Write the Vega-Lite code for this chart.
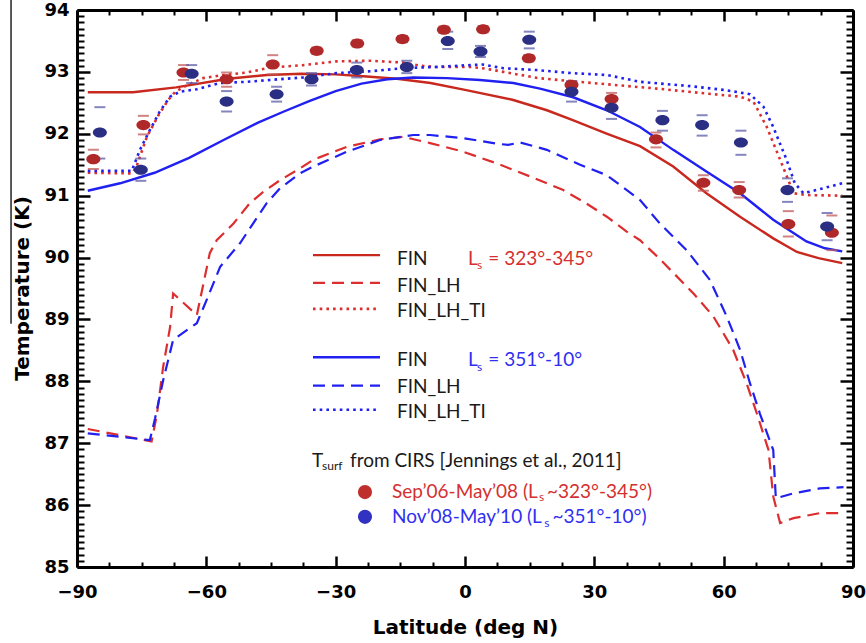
{
  "$schema": "https://vega.github.io/schema/vega-lite/v6.json",
  "width": 776,
  "height": 557,
  "autosize": {"type": "none"},
  "padding": {"left": 77, "top": 10, "right": 13, "bottom": 76},
  "background": "white",
  "config": {
    "view": {"stroke": null},
    "axis": {
      "grid": false,
      "zindex": 1,
      "domainColor": "black",
      "tickColor": "black",
      "labelColor": "black",
      "titleColor": "black",
      "labelFont": "DejaVu Sans",
      "labelFontWeight": "bold",
      "titleFont": "DejaVu Sans",
      "titleFontWeight": "bold",
      "labelFlush": false,
      "labelOverlap": false
    }
  },
  "datasets": {
    "curves": [
      {"m": "FIN", "s": "323-345", "k": "p", "lat": -87.5, "T": 92.67},
      {"m": "FIN", "s": "323-345", "k": "p", "lat": -77, "T": 92.67},
      {"m": "FIN", "s": "323-345", "k": "p", "lat": -67, "T": 92.75},
      {"m": "FIN", "s": "323-345", "k": "p", "lat": -55, "T": 92.89},
      {"m": "FIN", "s": "323-345", "k": "p", "lat": -46, "T": 92.95},
      {"m": "FIN", "s": "323-345", "k": "p", "lat": -38, "T": 92.97},
      {"m": "FIN", "s": "323-345", "k": "p", "lat": -30, "T": 92.96},
      {"m": "FIN", "s": "323-345", "k": "p", "lat": -23.6, "T": 92.93},
      {"m": "FIN", "s": "323-345", "k": "p", "lat": -15.8, "T": 92.89},
      {"m": "FIN", "s": "323-345", "k": "p", "lat": -8, "T": 92.82},
      {"m": "FIN", "s": "323-345", "k": "p", "lat": 0, "T": 92.71},
      {"m": "FIN", "s": "323-345", "k": "p", "lat": 11, "T": 92.55},
      {"m": "FIN", "s": "323-345", "k": "p", "lat": 19, "T": 92.38},
      {"m": "FIN", "s": "323-345", "k": "p", "lat": 25, "T": 92.22},
      {"m": "FIN", "s": "323-345", "k": "p", "lat": 33, "T": 92.0},
      {"m": "FIN", "s": "323-345", "k": "p", "lat": 40.6, "T": 91.8},
      {"m": "FIN", "s": "323-345", "k": "p", "lat": 48.3, "T": 91.47},
      {"m": "FIN", "s": "323-345", "k": "p", "lat": 56, "T": 91.04},
      {"m": "FIN", "s": "323-345", "k": "p", "lat": 63.8, "T": 90.66},
      {"m": "FIN", "s": "323-345", "k": "p", "lat": 71.5, "T": 90.31},
      {"m": "FIN", "s": "323-345", "k": "p", "lat": 77, "T": 90.09},
      {"m": "FIN", "s": "323-345", "k": "p", "lat": 82, "T": 89.99},
      {"m": "FIN", "s": "323-345", "k": "p", "lat": 87.5, "T": 89.91},

      {"m": "FIN", "s": "351-10", "k": "p", "lat": -87.5, "T": 91.08},
      {"m": "FIN", "s": "351-10", "k": "p", "lat": -80, "T": 91.2},
      {"m": "FIN", "s": "351-10", "k": "p", "lat": -72, "T": 91.37},
      {"m": "FIN", "s": "351-10", "k": "p", "lat": -64, "T": 91.61},
      {"m": "FIN", "s": "351-10", "k": "p", "lat": -56, "T": 91.9},
      {"m": "FIN", "s": "351-10", "k": "p", "lat": -48, "T": 92.18},
      {"m": "FIN", "s": "351-10", "k": "p", "lat": -42, "T": 92.36},
      {"m": "FIN", "s": "351-10", "k": "p", "lat": -36, "T": 92.53},
      {"m": "FIN", "s": "351-10", "k": "p", "lat": -30, "T": 92.69},
      {"m": "FIN", "s": "351-10", "k": "p", "lat": -24, "T": 92.81},
      {"m": "FIN", "s": "351-10", "k": "p", "lat": -18, "T": 92.88},
      {"m": "FIN", "s": "351-10", "k": "p", "lat": -12, "T": 92.91},
      {"m": "FIN", "s": "351-10", "k": "p", "lat": -4.2, "T": 92.9},
      {"m": "FIN", "s": "351-10", "k": "p", "lat": 3.5, "T": 92.87},
      {"m": "FIN", "s": "351-10", "k": "p", "lat": 11.2, "T": 92.82},
      {"m": "FIN", "s": "351-10", "k": "p", "lat": 17.4, "T": 92.73},
      {"m": "FIN", "s": "351-10", "k": "p", "lat": 25.1, "T": 92.59},
      {"m": "FIN", "s": "351-10", "k": "p", "lat": 32.9, "T": 92.38},
      {"m": "FIN", "s": "351-10", "k": "p", "lat": 40.6, "T": 92.11},
      {"m": "FIN", "s": "351-10", "k": "p", "lat": 48.3, "T": 91.74},
      {"m": "FIN", "s": "351-10", "k": "p", "lat": 56, "T": 91.39},
      {"m": "FIN", "s": "351-10", "k": "p", "lat": 63.8, "T": 91.04},
      {"m": "FIN", "s": "351-10", "k": "p", "lat": 71.5, "T": 90.61},
      {"m": "FIN", "s": "351-10", "k": "p", "lat": 79.2, "T": 90.26},
      {"m": "FIN", "s": "351-10", "k": "p", "lat": 83.5, "T": 90.15},
      {"m": "FIN", "s": "351-10", "k": "p", "lat": 87.5, "T": 90.1},

      {"m": "FIN_LH", "s": "323-345", "k": "p", "lat": -87.5, "T": 87.23},
      {"m": "FIN_LH", "s": "323-345", "k": "p", "lat": -72.7, "T": 87.03},
      {"m": "FIN_LH", "s": "323-345", "k": "p", "lat": -71.5, "T": 87.45},
      {"m": "FIN_LH", "s": "323-345", "k": "p", "lat": -70, "T": 88.24},
      {"m": "FIN_LH", "s": "323-345", "k": "p", "lat": -68.4, "T": 88.88},
      {"m": "FIN_LH", "s": "323-345", "k": "p", "lat": -67.7, "T": 89.42},
      {"m": "FIN_LH", "s": "323-345", "k": "p", "lat": -62.2, "T": 89.07},
      {"m": "FIN_LH", "s": "323-345", "k": "p", "lat": -59.2, "T": 90.07},
      {"m": "FIN_LH", "s": "323-345", "k": "p", "lat": -57.6, "T": 90.28},
      {"m": "FIN_LH", "s": "323-345", "k": "p", "lat": -53.7, "T": 90.55},
      {"m": "FIN_LH", "s": "323-345", "k": "p", "lat": -49.9, "T": 90.88},
      {"m": "FIN_LH", "s": "323-345", "k": "p", "lat": -46.8, "T": 91.06},
      {"m": "FIN_LH", "s": "323-345", "k": "p", "lat": -42.9, "T": 91.25},
      {"m": "FIN_LH", "s": "323-345", "k": "p", "lat": -38.3, "T": 91.44},
      {"m": "FIN_LH", "s": "323-345", "k": "p", "lat": -35.2, "T": 91.58},
      {"m": "FIN_LH", "s": "323-345", "k": "p", "lat": -27.4, "T": 91.79},
      {"m": "FIN_LH", "s": "323-345", "k": "p", "lat": -19.7, "T": 91.91},
      {"m": "FIN_LH", "s": "323-345", "k": "p", "lat": -14.3, "T": 91.95},
      {"m": "FIN_LH", "s": "323-345", "k": "p", "lat": -8.1, "T": 91.85},
      {"m": "FIN_LH", "s": "323-345", "k": "p", "lat": -0.4, "T": 91.71},
      {"m": "FIN_LH", "s": "323-345", "k": "p", "lat": 7.4, "T": 91.52},
      {"m": "FIN_LH", "s": "323-345", "k": "p", "lat": 15.1, "T": 91.31},
      {"m": "FIN_LH", "s": "323-345", "k": "p", "lat": 22.8, "T": 91.09},
      {"m": "FIN_LH", "s": "323-345", "k": "p", "lat": 28, "T": 90.88},
      {"m": "FIN_LH", "s": "323-345", "k": "p", "lat": 32.9, "T": 90.66},
      {"m": "FIN_LH", "s": "323-345", "k": "p", "lat": 37.5, "T": 90.42},
      {"m": "FIN_LH", "s": "323-345", "k": "p", "lat": 40.6, "T": 90.28},
      {"m": "FIN_LH", "s": "323-345", "k": "p", "lat": 45, "T": 89.99},
      {"m": "FIN_LH", "s": "323-345", "k": "p", "lat": 53, "T": 89.42},
      {"m": "FIN_LH", "s": "323-345", "k": "p", "lat": 57.6, "T": 89.05},
      {"m": "FIN_LH", "s": "323-345", "k": "p", "lat": 62.2, "T": 88.51},
      {"m": "FIN_LH", "s": "323-345", "k": "p", "lat": 65.3, "T": 87.97},
      {"m": "FIN_LH", "s": "323-345", "k": "p", "lat": 67.7, "T": 87.48},
      {"m": "FIN_LH", "s": "323-345", "k": "p", "lat": 70.4, "T": 86.89},
      {"m": "FIN_LH", "s": "323-345", "k": "p", "lat": 71.5, "T": 86.14},
      {"m": "FIN_LH", "s": "323-345", "k": "p", "lat": 73.1, "T": 85.71},
      {"m": "FIN_LH", "s": "323-345", "k": "p", "lat": 76.2, "T": 85.79},
      {"m": "FIN_LH", "s": "323-345", "k": "p", "lat": 82.3, "T": 85.87},
      {"m": "FIN_LH", "s": "323-345", "k": "p", "lat": 87.8, "T": 85.87},

      {"m": "FIN_LH", "s": "351-10", "k": "p", "lat": -87.5, "T": 87.16},
      {"m": "FIN_LH", "s": "351-10", "k": "p", "lat": -73.1, "T": 87.05},
      {"m": "FIN_LH", "s": "351-10", "k": "p", "lat": -71.9, "T": 87.4},
      {"m": "FIN_LH", "s": "351-10", "k": "p", "lat": -70, "T": 88.02},
      {"m": "FIN_LH", "s": "351-10", "k": "p", "lat": -67.7, "T": 88.67},
      {"m": "FIN_LH", "s": "351-10", "k": "p", "lat": -62.2, "T": 88.94},
      {"m": "FIN_LH", "s": "351-10", "k": "p", "lat": -59.9, "T": 89.32},
      {"m": "FIN_LH", "s": "351-10", "k": "p", "lat": -56.8, "T": 89.85},
      {"m": "FIN_LH", "s": "351-10", "k": "p", "lat": -52.2, "T": 90.23},
      {"m": "FIN_LH", "s": "351-10", "k": "p", "lat": -46, "T": 90.88},
      {"m": "FIN_LH", "s": "351-10", "k": "p", "lat": -42.9, "T": 91.12},
      {"m": "FIN_LH", "s": "351-10", "k": "p", "lat": -38.3, "T": 91.36},
      {"m": "FIN_LH", "s": "351-10", "k": "p", "lat": -35.2, "T": 91.47},
      {"m": "FIN_LH", "s": "351-10", "k": "p", "lat": -27.4, "T": 91.71},
      {"m": "FIN_LH", "s": "351-10", "k": "p", "lat": -19.7, "T": 91.9},
      {"m": "FIN_LH", "s": "351-10", "k": "p", "lat": -12, "T": 91.98},
      {"m": "FIN_LH", "s": "351-10", "k": "p", "lat": -8.1, "T": 91.98},
      {"m": "FIN_LH", "s": "351-10", "k": "p", "lat": -0.4, "T": 91.93},
      {"m": "FIN_LH", "s": "351-10", "k": "p", "lat": 7.4, "T": 91.84},
      {"m": "FIN_LH", "s": "351-10", "k": "p", "lat": 10, "T": 91.82},
      {"m": "FIN_LH", "s": "351-10", "k": "p", "lat": 12.8, "T": 91.86},
      {"m": "FIN_LH", "s": "351-10", "k": "p", "lat": 19, "T": 91.74},
      {"m": "FIN_LH", "s": "351-10", "k": "p", "lat": 26.7, "T": 91.5},
      {"m": "FIN_LH", "s": "351-10", "k": "p", "lat": 32.9, "T": 91.33},
      {"m": "FIN_LH", "s": "351-10", "k": "p", "lat": 40.6, "T": 90.93},
      {"m": "FIN_LH", "s": "351-10", "k": "p", "lat": 45.2, "T": 90.55},
      {"m": "FIN_LH", "s": "351-10", "k": "p", "lat": 51.4, "T": 90.12},
      {"m": "FIN_LH", "s": "351-10", "k": "p", "lat": 56.8, "T": 89.64},
      {"m": "FIN_LH", "s": "351-10", "k": "p", "lat": 60.7, "T": 89.05},
      {"m": "FIN_LH", "s": "351-10", "k": "p", "lat": 63.8, "T": 88.51},
      {"m": "FIN_LH", "s": "351-10", "k": "p", "lat": 66.1, "T": 87.97},
      {"m": "FIN_LH", "s": "351-10", "k": "p", "lat": 68.4, "T": 87.48},
      {"m": "FIN_LH", "s": "351-10", "k": "p", "lat": 71.5, "T": 86.89},
      {"m": "FIN_LH", "s": "351-10", "k": "p", "lat": 72.1, "T": 86.11},
      {"m": "FIN_LH", "s": "351-10", "k": "p", "lat": 76.2, "T": 86.19},
      {"m": "FIN_LH", "s": "351-10", "k": "p", "lat": 82.3, "T": 86.27},
      {"m": "FIN_LH", "s": "351-10", "k": "p", "lat": 87.8, "T": 86.29},

      {"m": "FIN_LH_TI", "s": "323-345", "k": "p", "lat": -87.5, "T": 91.37},
      {"m": "FIN_LH_TI", "s": "323-345", "k": "p", "lat": -77.3, "T": 91.36},
      {"m": "FIN_LH_TI", "s": "323-345", "k": "p", "lat": -76.3, "T": 91.45},
      {"m": "FIN_LH_TI", "s": "323-345", "k": "p", "lat": -73.8, "T": 91.95},
      {"m": "FIN_LH_TI", "s": "323-345", "k": "p", "lat": -71.1, "T": 92.3},
      {"m": "FIN_LH_TI", "s": "323-345", "k": "p", "lat": -68.8, "T": 92.55},
      {"m": "FIN_LH_TI", "s": "323-345", "k": "p", "lat": -67.2, "T": 92.68},
      {"m": "FIN_LH_TI", "s": "323-345", "k": "p", "lat": -64, "T": 92.8},
      {"m": "FIN_LH_TI", "s": "323-345", "k": "p", "lat": -60.7, "T": 92.9},
      {"m": "FIN_LH_TI", "s": "323-345", "k": "p", "lat": -56, "T": 92.95},
      {"m": "FIN_LH_TI", "s": "323-345", "k": "p", "lat": -50.6, "T": 92.99},
      {"m": "FIN_LH_TI", "s": "323-345", "k": "p", "lat": -45.2, "T": 93.07},
      {"m": "FIN_LH_TI", "s": "323-345", "k": "p", "lat": -37.5, "T": 93.11},
      {"m": "FIN_LH_TI", "s": "323-345", "k": "p", "lat": -29.8, "T": 93.17},
      {"m": "FIN_LH_TI", "s": "323-345", "k": "p", "lat": -22, "T": 93.18},
      {"m": "FIN_LH_TI", "s": "323-345", "k": "p", "lat": -14.3, "T": 93.15},
      {"m": "FIN_LH_TI", "s": "323-345", "k": "p", "lat": -10.4, "T": 93.1},
      {"m": "FIN_LH_TI", "s": "323-345", "k": "p", "lat": -6.6, "T": 93.08},
      {"m": "FIN_LH_TI", "s": "323-345", "k": "p", "lat": 1.2, "T": 93.08},
      {"m": "FIN_LH_TI", "s": "323-345", "k": "p", "lat": 5, "T": 93.05},
      {"m": "FIN_LH_TI", "s": "323-345", "k": "p", "lat": 8.9, "T": 93.0},
      {"m": "FIN_LH_TI", "s": "323-345", "k": "p", "lat": 17, "T": 92.9},
      {"m": "FIN_LH_TI", "s": "323-345", "k": "p", "lat": 24.7, "T": 92.85},
      {"m": "FIN_LH_TI", "s": "323-345", "k": "p", "lat": 32.9, "T": 92.8},
      {"m": "FIN_LH_TI", "s": "323-345", "k": "p", "lat": 44.5, "T": 92.73},
      {"m": "FIN_LH_TI", "s": "323-345", "k": "p", "lat": 56, "T": 92.65},
      {"m": "FIN_LH_TI", "s": "323-345", "k": "p", "lat": 63.8, "T": 92.6},
      {"m": "FIN_LH_TI", "s": "323-345", "k": "p", "lat": 66.9, "T": 92.52},
      {"m": "FIN_LH_TI", "s": "323-345", "k": "p", "lat": 70, "T": 92.11},
      {"m": "FIN_LH_TI", "s": "323-345", "k": "p", "lat": 73.1, "T": 91.58},
      {"m": "FIN_LH_TI", "s": "323-345", "k": "p", "lat": 75, "T": 91.25},
      {"m": "FIN_LH_TI", "s": "323-345", "k": "p", "lat": 76.2, "T": 91.04},
      {"m": "FIN_LH_TI", "s": "323-345", "k": "p", "lat": 79.3, "T": 91.01},
      {"m": "FIN_LH_TI", "s": "323-345", "k": "p", "lat": 87.5, "T": 91.0},

      {"m": "FIN_LH_TI", "s": "351-10", "k": "p", "lat": -87.5, "T": 91.4},
      {"m": "FIN_LH_TI", "s": "351-10", "k": "p", "lat": -77.3, "T": 91.4},
      {"m": "FIN_LH_TI", "s": "351-10", "k": "p", "lat": -75.4, "T": 91.74},
      {"m": "FIN_LH_TI", "s": "351-10", "k": "p", "lat": -73.1, "T": 92.06},
      {"m": "FIN_LH_TI", "s": "351-10", "k": "p", "lat": -70.8, "T": 92.36},
      {"m": "FIN_LH_TI", "s": "351-10", "k": "p", "lat": -68.4, "T": 92.6},
      {"m": "FIN_LH_TI", "s": "351-10", "k": "p", "lat": -66.1, "T": 92.68},
      {"m": "FIN_LH_TI", "s": "351-10", "k": "p", "lat": -62.2, "T": 92.72},
      {"m": "FIN_LH_TI", "s": "351-10", "k": "p", "lat": -56.8, "T": 92.82},
      {"m": "FIN_LH_TI", "s": "351-10", "k": "p", "lat": -50.6, "T": 92.84},
      {"m": "FIN_LH_TI", "s": "351-10", "k": "p", "lat": -45.2, "T": 92.87},
      {"m": "FIN_LH_TI", "s": "351-10", "k": "p", "lat": -37.5, "T": 92.91},
      {"m": "FIN_LH_TI", "s": "351-10", "k": "p", "lat": -29.8, "T": 92.98},
      {"m": "FIN_LH_TI", "s": "351-10", "k": "p", "lat": -22, "T": 93.01},
      {"m": "FIN_LH_TI", "s": "351-10", "k": "p", "lat": -14.3, "T": 93.06},
      {"m": "FIN_LH_TI", "s": "351-10", "k": "p", "lat": -6.6, "T": 93.08},
      {"m": "FIN_LH_TI", "s": "351-10", "k": "p", "lat": 1.2, "T": 93.11},
      {"m": "FIN_LH_TI", "s": "351-10", "k": "p", "lat": 4, "T": 93.12},
      {"m": "FIN_LH_TI", "s": "351-10", "k": "p", "lat": 8.9, "T": 93.06},
      {"m": "FIN_LH_TI", "s": "351-10", "k": "p", "lat": 16.6, "T": 93.03},
      {"m": "FIN_LH_TI", "s": "351-10", "k": "p", "lat": 24.7, "T": 92.98},
      {"m": "FIN_LH_TI", "s": "351-10", "k": "p", "lat": 32.9, "T": 92.95},
      {"m": "FIN_LH_TI", "s": "351-10", "k": "p", "lat": 40.6, "T": 92.84},
      {"m": "FIN_LH_TI", "s": "351-10", "k": "p", "lat": 52.2, "T": 92.77},
      {"m": "FIN_LH_TI", "s": "351-10", "k": "p", "lat": 59.9, "T": 92.71},
      {"m": "FIN_LH_TI", "s": "351-10", "k": "p", "lat": 66.1, "T": 92.64},
      {"m": "FIN_LH_TI", "s": "351-10", "k": "p", "lat": 69.2, "T": 92.44},
      {"m": "FIN_LH_TI", "s": "351-10", "k": "p", "lat": 71.5, "T": 92.11},
      {"m": "FIN_LH_TI", "s": "351-10", "k": "p", "lat": 74.6, "T": 91.58},
      {"m": "FIN_LH_TI", "s": "351-10", "k": "p", "lat": 76.5, "T": 91.2},
      {"m": "FIN_LH_TI", "s": "351-10", "k": "p", "lat": 78.5, "T": 91.04},
      {"m": "FIN_LH_TI", "s": "351-10", "k": "p", "lat": 83.1, "T": 91.12},
      {"m": "FIN_LH_TI", "s": "351-10", "k": "p", "lat": 87.5, "T": 91.2},

      {"m": "FIN", "s": "323-345", "k": "key", "lat": -35.26, "T": 90.04},
      {"m": "FIN", "s": "323-345", "k": "key", "lat": -19.72, "T": 90.04},
      {"m": "FIN_LH", "s": "323-345", "k": "key", "lat": -35.26, "T": 89.59},
      {"m": "FIN_LH", "s": "323-345", "k": "key", "lat": -19.72, "T": 89.59},
      {"m": "FIN_LH_TI", "s": "323-345", "k": "key", "lat": -35.26, "T": 89.17},
      {"m": "FIN_LH_TI", "s": "323-345", "k": "key", "lat": -19.72, "T": 89.17},
      {"m": "FIN", "s": "351-10", "k": "key", "lat": -35.26, "T": 88.39},
      {"m": "FIN", "s": "351-10", "k": "key", "lat": -19.72, "T": 88.39},
      {"m": "FIN_LH", "s": "351-10", "k": "key", "lat": -35.26, "T": 87.93},
      {"m": "FIN_LH", "s": "351-10", "k": "key", "lat": -19.72, "T": 87.93},
      {"m": "FIN_LH_TI", "s": "351-10", "k": "key", "lat": -35.26, "T": 87.54},
      {"m": "FIN_LH_TI", "s": "351-10", "k": "key", "lat": -19.72, "T": 87.54}
    ],
    "cirs": [
      {"s": "323-345", "lat": -86.2, "T": 91.59, "lo": 91.43, "hi": 91.74},
      {"s": "323-345", "lat": -74.6, "T": 92.14, "lo": 91.99, "hi": 92.29},
      {"s": "323-345", "lat": -65.3, "T": 92.99, "lo": 92.87, "hi": 93.11},
      {"s": "323-345", "lat": -55.3, "T": 92.88, "lo": 92.76, "hi": 92.99},
      {"s": "323-345", "lat": -44.6, "T": 93.12, "lo": 92.96, "hi": 93.27},
      {"s": "323-345", "lat": -34.4, "T": 93.34, "lo": 93.29, "hi": 93.39},
      {"s": "323-345", "lat": -25.0, "T": 93.46, "lo": 93.41, "hi": 93.51},
      {"s": "323-345", "lat": -14.5, "T": 93.53, "lo": 93.48, "hi": 93.58},
      {"s": "323-345", "lat": -4.9, "T": 93.68, "lo": 93.63, "hi": 93.73},
      {"s": "323-345", "lat": 4.2, "T": 93.69, "lo": 93.64, "hi": 93.74},
      {"s": "323-345", "lat": 14.8, "T": 93.22, "lo": 93.17, "hi": 93.27},
      {"s": "323-345", "lat": 24.7, "T": 92.79, "lo": 92.74, "hi": 92.84},
      {"s": "323-345", "lat": 34.0, "T": 92.56, "lo": 92.47, "hi": 92.66},
      {"s": "323-345", "lat": 44.3, "T": 91.91, "lo": 91.78, "hi": 92.02},
      {"s": "323-345", "lat": 55.3, "T": 91.21, "lo": 91.08, "hi": 91.33},
      {"s": "323-345", "lat": 63.6, "T": 91.09, "lo": 90.97, "hi": 91.22},
      {"s": "323-345", "lat": 75.0, "T": 90.54, "lo": 90.34, "hi": 90.75},
      {"s": "323-345", "lat": 85.1, "T": 90.4, "lo": 90.12, "hi": 90.68},
      {"s": "351-10", "lat": -84.7, "T": 92.02, "lo": 91.6, "hi": 92.43},
      {"s": "351-10", "lat": -75.2, "T": 91.42, "lo": 91.24, "hi": 91.6},
      {"s": "351-10", "lat": -63.4, "T": 92.97, "lo": 92.82, "hi": 93.11},
      {"s": "351-10", "lat": -55.3, "T": 92.52, "lo": 92.36, "hi": 92.69},
      {"s": "351-10", "lat": -43.7, "T": 92.64, "lo": 92.52, "hi": 92.76},
      {"s": "351-10", "lat": -35.6, "T": 92.88, "lo": 92.78, "hi": 92.98},
      {"s": "351-10", "lat": -25.1, "T": 93.03, "lo": 92.91, "hi": 93.15},
      {"s": "351-10", "lat": -13.5, "T": 93.08, "lo": 92.98, "hi": 93.18},
      {"s": "351-10", "lat": -4.0, "T": 93.5, "lo": 93.37, "hi": 93.65},
      {"s": "351-10", "lat": 3.6, "T": 93.33, "lo": 93.24, "hi": 93.42},
      {"s": "351-10", "lat": 14.9, "T": 93.52, "lo": 93.38, "hi": 93.65},
      {"s": "351-10", "lat": 24.7, "T": 92.68, "lo": 92.52, "hi": 92.85},
      {"s": "351-10", "lat": 34.0, "T": 92.42, "lo": 92.24, "hi": 92.6},
      {"s": "351-10", "lat": 45.8, "T": 92.22, "lo": 92.05, "hi": 92.37},
      {"s": "351-10", "lat": 55.0, "T": 92.14, "lo": 91.97, "hi": 92.3},
      {"s": "351-10", "lat": 64.0, "T": 91.86, "lo": 91.66, "hi": 92.05},
      {"s": "351-10", "lat": 74.8, "T": 91.09, "lo": 90.9, "hi": 91.28},
      {"s": "351-10", "lat": 84.0, "T": 90.5, "lo": 90.28, "hi": 90.72}
    ],
    "notes": [
      {"txt": "FIN", "c": "k", "lat": -15.77, "T": 89.88},
      {"txt": "FIN_LH", "c": "k", "lat": -15.77, "T": 89.45},
      {"txt": "FIN_LH_TI", "c": "k", "lat": -15.77, "T": 89.04},
      {"txt": "FIN", "c": "k", "lat": -15.77, "T": 88.24},
      {"txt": "FIN_LH", "c": "k", "lat": -15.77, "T": 87.81},
      {"txt": "FIN_LH_TI", "c": "k", "lat": -15.77, "T": 87.4},
      {"txt": "L", "c": "r", "lat": 0.7, "T": 89.88},
      {"txt": "= 323°-345°", "c": "r", "lat": 5.4, "T": 89.88},
      {"txt": "L", "c": "b", "lat": 0.7, "T": 88.24},
      {"txt": "= 351°-10°", "c": "b", "lat": 5.4, "T": 88.24},
      {"txt": "T", "c": "k", "lat": -35.49, "T": 86.62},
      {"txt": "from CIRS [Jennings et al., 2011]", "c": "k", "lat": -26.68, "T": 86.62},
      {"txt": "Sep’06-May’08 (L", "c": "r", "lat": -16.93, "T": 86.11},
      {"txt": "~323°-345°)", "c": "r", "lat": 19.02, "T": 86.11},
      {"txt": "Nov’08-May’10 (L", "c": "b", "lat": -16.93, "T": 85.71},
      {"txt": "~351°-10°)", "c": "b", "lat": 20.3, "T": 85.71}
    ],
    "subs": [
      {"txt": "s", "c": "r", "lat": 2.78, "T": 89.81},
      {"txt": "s", "c": "b", "lat": 2.78, "T": 88.17},
      {"txt": "surf", "c": "k", "lat": -33.17, "T": 86.57},
      {"txt": "s", "c": "r", "lat": 17.17, "T": 86.06},
      {"txt": "s", "c": "b", "lat": 18.4, "T": 85.65}
    ],
    "dots": [
      {"s": "323-345", "lat": -23.2, "T": 86.21},
      {"s": "351-10", "lat": -23.2, "T": 85.81}
    ]
  },
  "resolve": {
    "scale": {"color": "independent"},
    "axis": {"x": "independent", "y": "independent"}
  },
  "layer": [
    {
      "data": {"name": "curves"},
      "transform": [{"filter": "datum.m == 'FIN'"}],
      "mark": {"type": "line", "strokeWidth": 2.4},
      "encoding": {
        "x": {
          "field": "lat", "type": "quantitative",
          "scale": {"domain": [-90, 90], "nice": false, "zero": false},
          "axis": {
            "orient": "bottom",
            "values": [-90, -60, -30, 0, 30, 60, 90],
            "tickSize": -11, "tickWidth": 2.5, "domainWidth": 3,
            "labelFontSize": 18, "labelPadding": 27,
            "labelExpr": "replace(format(datum.value, 'd'), '-', '−')",
            "title": "Latitude (deg N)", "titleFontSize": 20,
            "titleX": 388, "titleY": 60, "titleBaseline": "middle"
          }
        },
        "y": {
          "field": "T", "type": "quantitative",
          "scale": {"domain": [85, 94], "nice": false, "zero": false},
          "axis": {
            "orient": "left",
            "values": [85, 86, 87, 88, 89, 90, 91, 92, 93, 94],
            "tickSize": -13, "tickWidth": 2.5, "domainWidth": 3,
            "labelFontSize": 18, "labelPadding": 21,
            "title": "Temperature (K)", "titleFontSize": 20,
            "titleX": -55, "titleY": 278, "titleAngle": 270, "titleBaseline": "middle"
          }
        },
        "color": {"field": "s", "type": "nominal", "scale": {"domain": ["323-345", "351-10"], "range": ["#c8281e", "#2020f0"]}, "legend": null},
        "detail": {"field": "k"}
      }
    },
    {
      "data": {"name": "curves"},
      "transform": [{"filter": "datum.m == 'FIN_LH'"}],
      "mark": {"type": "line", "strokeWidth": 2.2, "strokeDash": [12, 7]},
      "encoding": {
        "x": {
          "field": "lat", "type": "quantitative",
          "scale": {"domain": [-90, 90], "nice": false, "zero": false},
          "axis": {
            "orient": "bottom",
            "values": [-82.5, -75, -67.5, -52.5, -45, -37.5, -22.5, -15, -7.5, 7.5, 15, 22.5, 37.5, 45, 52.5, 67.5, 75, 82.5],
            "tickSize": -5, "tickWidth": 2, "domain": false, "labels": false, "title": null
          }
        },
        "y": {
          "field": "T", "type": "quantitative",
          "scale": {"domain": [85, 94], "nice": false, "zero": false},
          "axis": {
            "orient": "left",
            "values": [85.1, 85.2, 85.3, 85.4, 85.5, 85.6, 85.7, 85.8, 85.9, 86.1, 86.2, 86.3, 86.4, 86.5, 86.6, 86.7, 86.8, 86.9, 87.1, 87.2, 87.3, 87.4, 87.5, 87.6, 87.7, 87.8, 87.9, 88.1, 88.2, 88.3, 88.4, 88.5, 88.6, 88.7, 88.8, 88.9, 89.1, 89.2, 89.3, 89.4, 89.5, 89.6, 89.7, 89.8, 89.9, 90.1, 90.2, 90.3, 90.4, 90.5, 90.6, 90.7, 90.8, 90.9, 91.1, 91.2, 91.3, 91.4, 91.5, 91.6, 91.7, 91.8, 91.9, 92.1, 92.2, 92.3, 92.4, 92.5, 92.6, 92.7, 92.8, 92.9, 93.1, 93.2, 93.3, 93.4, 93.5, 93.6, 93.7, 93.8, 93.9],
            "tickSize": -7, "tickWidth": 2, "domain": false, "labels": false, "title": null
          }
        },
        "color": {"field": "s", "type": "nominal", "scale": {"domain": ["323-345", "351-10"], "range": ["#dc2e2e", "#2020f0"]}, "legend": null},
        "detail": {"field": "k"}
      }
    },
    {
      "data": {"name": "curves"},
      "transform": [{"filter": "datum.m == 'FIN_LH_TI'"}],
      "mark": {"type": "line", "strokeWidth": 2.6, "strokeDash": [2.6, 4.1]},
      "encoding": {
        "x": {
          "field": "lat", "type": "quantitative",
          "scale": {"domain": [-90, 90], "nice": false, "zero": false},
          "axis": {
            "orient": "top",
            "values": [-90, -60, -30, 0, 30, 60, 90],
            "tickSize": -11, "tickWidth": 2.5, "domainWidth": 3, "labels": false, "title": null
          }
        },
        "y": {
          "field": "T", "type": "quantitative",
          "scale": {"domain": [85, 94], "nice": false, "zero": false},
          "axis": {
            "orient": "right",
            "values": [85, 86, 87, 88, 89, 90, 91, 92, 93, 94],
            "tickSize": -13, "tickWidth": 2.5, "domainWidth": 3, "labels": false, "title": null
          }
        },
        "color": {"field": "s", "type": "nominal", "scale": {"domain": ["323-345", "351-10"], "range": ["#dc2e2e", "#2020f0"]}, "legend": null},
        "detail": {"field": "k"}
      }
    },
    {
      "data": {"name": "cirs"},
      "mark": {"type": "tick", "orient": "horizontal", "size": 11, "thickness": 2, "opacity": 0.75},
      "encoding": {
        "x": {
          "field": "lat", "type": "quantitative",
          "scale": {"domain": [-90, 90], "nice": false, "zero": false},
          "axis": {
            "orient": "top",
            "values": [-82.5, -75, -67.5, -52.5, -45, -37.5, -22.5, -15, -7.5, 7.5, 15, 22.5, 37.5, 45, 52.5, 67.5, 75, 82.5],
            "tickSize": -5, "tickWidth": 2, "domain": false, "labels": false, "title": null
          }
        },
        "y": {
          "field": "lo", "type": "quantitative",
          "scale": {"domain": [85, 94], "nice": false, "zero": false},
          "axis": {
            "orient": "right",
            "values": [85.1, 85.2, 85.3, 85.4, 85.5, 85.6, 85.7, 85.8, 85.9, 86.1, 86.2, 86.3, 86.4, 86.5, 86.6, 86.7, 86.8, 86.9, 87.1, 87.2, 87.3, 87.4, 87.5, 87.6, 87.7, 87.8, 87.9, 88.1, 88.2, 88.3, 88.4, 88.5, 88.6, 88.7, 88.8, 88.9, 89.1, 89.2, 89.3, 89.4, 89.5, 89.6, 89.7, 89.8, 89.9, 90.1, 90.2, 90.3, 90.4, 90.5, 90.6, 90.7, 90.8, 90.9, 91.1, 91.2, 91.3, 91.4, 91.5, 91.6, 91.7, 91.8, 91.9, 92.1, 92.2, 92.3, 92.4, 92.5, 92.6, 92.7, 92.8, 92.9, 93.1, 93.2, 93.3, 93.4, 93.5, 93.6, 93.7, 93.8, 93.9],
            "tickSize": -7, "tickWidth": 2, "domain": false, "labels": false, "title": null
          }
        },
        "color": {"field": "s", "type": "nominal", "scale": {"domain": ["323-345", "351-10"], "range": ["#c25a5a", "#5c5ea8"]}, "legend": null}
      }
    },
    {
      "data": {"name": "cirs"},
      "mark": {"type": "tick", "orient": "horizontal", "size": 11, "thickness": 2, "opacity": 0.75},
      "encoding": {
        "x": {"field": "lat", "type": "quantitative", "scale": {"domain": [-90, 90], "nice": false, "zero": false}, "axis": null},
        "y": {"field": "hi", "type": "quantitative", "scale": {"domain": [85, 94], "nice": false, "zero": false}, "axis": null},
        "color": {"field": "s", "type": "nominal", "scale": {"domain": ["323-345", "351-10"], "range": ["#c25a5a", "#5c5ea8"]}, "legend": null}
      }
    },
    {
      "data": {"name": "cirs"},
      "mark": {"type": "point", "filled": true, "opacity": 1, "size": 196, "strokeWidth": 0, "shape": "M-1,0A1,0.72,0,1,1,1,0A1,0.72,0,1,1,-1,0Z"},
      "encoding": {
        "x": {"field": "lat", "type": "quantitative", "scale": {"domain": [-90, 90], "nice": false, "zero": false}, "axis": null},
        "y": {"field": "T", "type": "quantitative", "scale": {"domain": [85, 94], "nice": false, "zero": false}, "axis": null},
        "color": {"field": "s", "type": "nominal", "scale": {"domain": ["323-345", "351-10"], "range": ["#b0292a", "#2b2f84"]}, "legend": null}
      }
    },
    {
      "data": {"name": "dots"},
      "mark": {"type": "circle", "opacity": 1, "size": 200},
      "encoding": {
        "x": {"field": "lat", "type": "quantitative", "scale": {"domain": [-90, 90], "nice": false, "zero": false}, "axis": null},
        "y": {"field": "T", "type": "quantitative", "scale": {"domain": [85, 94], "nice": false, "zero": false}, "axis": null},
        "color": {"field": "s", "type": "nominal", "scale": {"domain": ["323-345", "351-10"], "range": ["#bf2f2c", "#3131c2"]}, "legend": null}
      }
    },
    {
      "data": {"name": "notes"},
      "mark": {"type": "text", "align": "left", "baseline": "alphabetic", "font": "Lato", "fontSize": 19},
      "encoding": {
        "x": {"field": "lat", "type": "quantitative", "scale": {"domain": [-90, 90], "nice": false, "zero": false}, "axis": null},
        "y": {"field": "T", "type": "quantitative", "scale": {"domain": [85, 94], "nice": false, "zero": false}, "axis": null},
        "text": {"field": "txt"},
        "color": {"field": "c", "type": "nominal", "scale": {"domain": ["k", "r", "b"], "range": ["#1a1a1a", "#d43030", "#2f2ff0"]}, "legend": null}
      }
    },
    {
      "data": {"name": "subs"},
      "mark": {"type": "text", "align": "left", "baseline": "alphabetic", "font": "Lato", "fontSize": 12},
      "encoding": {
        "x": {"field": "lat", "type": "quantitative", "scale": {"domain": [-90, 90], "nice": false, "zero": false}, "axis": null},
        "y": {"field": "T", "type": "quantitative", "scale": {"domain": [85, 94], "nice": false, "zero": false}, "axis": null},
        "text": {"field": "txt"},
        "color": {"field": "c", "type": "nominal", "scale": {"domain": ["k", "r", "b"], "range": ["#1a1a1a", "#d43030", "#2f2ff0"]}, "legend": null}
      }
    },
    {
      "data": {"values": [{"lat": -105.3, "top": 94.16, "bottom": 88.93}]},
      "mark": {"type": "rule", "color": "black", "strokeWidth": 1.3},
      "encoding": {
        "x": {"field": "lat", "type": "quantitative", "scale": {"domain": [-90, 90], "nice": false, "zero": false}, "axis": null},
        "y": {"field": "top", "type": "quantitative", "scale": {"domain": [85, 94], "nice": false, "zero": false}, "axis": null},
        "y2": {"field": "bottom"}
      }
    }
  ]
}
